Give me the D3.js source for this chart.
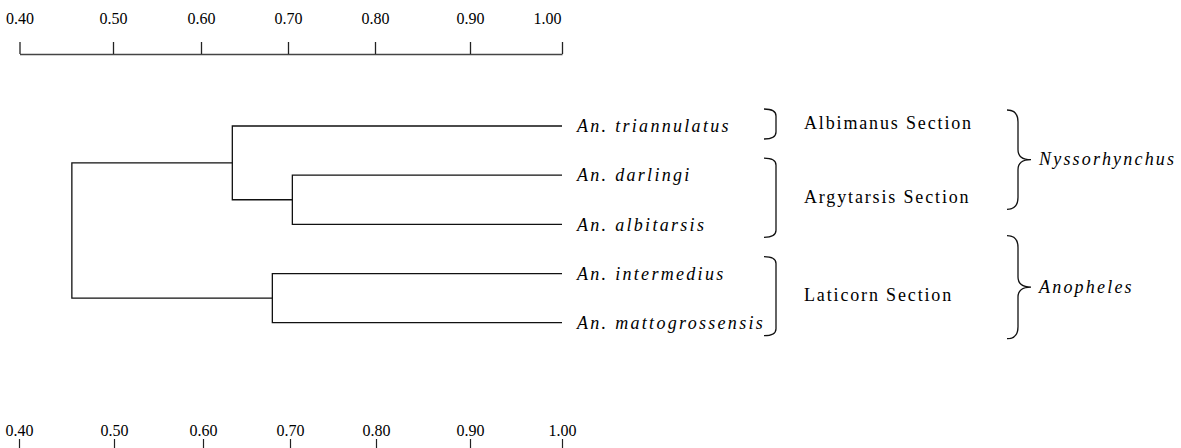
<!DOCTYPE html>
<html>
<head>
<meta charset="utf-8">
<script src="https://cdn.jsdelivr.net/npm/d3@7"></script>
<style>
  body { margin: 0; background: #fff; }
  svg text { font-family: "Liberation Serif", "Times New Roman", Times, "DejaVu Serif", serif; fill: #000; }
  .tick text { font-size: 16px; }
  .leaf { font-size: 18px; font-style: italic; letter-spacing: 2.3px; }
  .section { font-size: 18px; letter-spacing: 1.85px; }
  .genus { font-size: 18px; font-style: italic; letter-spacing: 2.2px; }
</style>
</head>
<body>
<div id="chart"></div>
<script>
// similarity scale ticks
var tickValues = [0.40, 0.50, 0.60, 0.70, 0.80, 0.90, 1.00];

// species, top to bottom
var leafNames = ["An. triannulatus", "An. darlingi", "An. albitarsis", "An. intermedius", "An. mattogrossensis"];

// clusters (UPGMA-like merges)
var mergeIds = ["B", "C", "A", "root"];
var mergeChildren = [
    ["An. darlingi", "An. albitarsis"],
    ["An. intermedius", "An. mattogrossensis"],
    ["An. triannulatus", "B"],
    ["A", "C"]
];
var mergeLevels = [0.705, 0.682, 0.636, 0.456];

// sections and subgenera
var sectionNames = ["Albimanus Section", "Argytarsis Section", "Laticorn Section"];
var sectionLeaves = [[0, 0], [1, 2], [3, 4]];
var genusNames = ["Nyssorhynchus", "Anopheles"];
var genusLeaves = [[0, 2], [3, 4]];

makePlot();

function makePlot() {
    var svgWidth = 1181;
    var svgHeight = 448;

    var svg = d3.select("#chart")
        .append("svg")
        .attr("width", svgWidth)
        .attr("height", svgHeight);

    // the printed ticks are not evenly spaced
    var xTop = d3.scaleLinear()
        .domain(tickValues)
        .range([19.5, 113, 201, 288, 375, 470, 562]);

    var xBottom = d3.scaleLinear()
        .domain(tickValues)
        .range([19, 114, 203, 290, 376, 470, 562]);

    var yScale = d3.scalePoint()
        .domain(leafNames)
        .range([126, 322.7]);

    // top axis
    var topAxis = d3.axisTop(xTop)
        .tickValues(tickValues)
        .tickSize(12)
        .tickSizeOuter(0)
        .tickPadding(18)
        .tickFormat(d3.format(".2f"));

    var gTop = svg.append("g")
        .attr("transform", "translate(0, 54)")
        .call(topAxis)
        .attr("font-family", null)
        .attr("font-size", null);
    gTop.select(".domain").attr("stroke", "#444").attr("stroke-width", 1.6);
    gTop.selectAll(".tick line").attr("stroke", "#222").attr("stroke-width", 1.3);
    gTop.selectAll(".tick text")
        .filter(d => d === 1.00)
        .attr("dx", -15);

    // bottom axis: labels above short ticks, no line
    var bottomAxis = d3.axisTop(xBottom)
        .tickValues(tickValues)
        .tickSize(9)
        .tickSizeOuter(0)
        .tickPadding(3)
        .tickFormat(d3.format(".2f"));

    var gBottom = svg.append("g")
        .attr("transform", "translate(0, 448)")
        .call(bottomAxis)
        .attr("font-family", null)
        .attr("font-size", null);
    gBottom.select(".domain").remove();
    gBottom.selectAll(".tick line").attr("stroke", "#222").attr("stroke-width", 1.2);

    // dendrogram
    var nodeX = {};
    var nodeY = {};
    leafNames.forEach(function(name) {
        nodeX[name] = xTop(1.00);
        nodeY[name] = yScale(name);
    });

    var links = [];
    mergeIds.forEach(function(id, i) {
        var kids = mergeChildren[i];
        nodeX[id] = xTop(mergeLevels[i]);
        nodeY[id] = d3.mean(kids, k => nodeY[k]);
        links.push({x: nodeX[id], kids: kids});
    });

    var tree = svg.append("g")
        .attr("fill", "none")
        .attr("stroke", "#111")
        .attr("stroke-width", 1.3);

    tree.selectAll("path.elbow")
        .data(links)
        .enter()
        .append("path")
        .attr("class", "elbow")
        .attr("d", function(d) {
            var a = d.kids[0], b = d.kids[1];
            return "M" + nodeX[a] + "," + nodeY[a] +
                "H" + d.x + "V" + nodeY[b] + "H" + nodeX[b];
        });

    svg.selectAll("text.leaf")
        .data(leafNames)
        .enter()
        .append("text")
        .attr("class", "leaf")
        .attr("x", xTop(1.00) + 15)
        .attr("y", d => yScale(d))
        .attr("dy", "0.35em")
        .text(d => d);

    // section brackets
    var bx0 = 764, bx1 = 776, r = 7;
    sectionNames.forEach(function(name, i) {
        var top = yScale(leafNames[sectionLeaves[i][0]]) - 17;
        var bot = yScale(leafNames[sectionLeaves[i][1]]) + 13;
        svg.append("path")
            .attr("fill", "none")
            .attr("stroke", "#111")
            .attr("stroke-width", 1.3)
            .attr("d", "M" + bx0 + "," + top + "Q" + bx1 + "," + top + " " + bx1 + "," + (top + r) +
                "V" + (bot - r) + "Q" + bx1 + "," + bot + " " + bx0 + "," + bot);
        svg.append("text")
            .attr("class", "section")
            .attr("x", 804)
            .attr("y", (top + bot) / 2 - 1)
            .attr("dy", "0.35em")
            .text(name);
    });

    // subgenus braces
    var cx0 = 1007, cx1 = 1018, cx2 = 1031;
    var braceTop = [-16, -38];
    var braceBot = [-15, 16];
    genusNames.forEach(function(name, i) {
        var top = yScale(leafNames[genusLeaves[i][0]]) + braceTop[i];
        var bot = yScale(leafNames[genusLeaves[i][1]]) + braceBot[i];
        var mid = (top + bot) / 2;
        svg.append("path")
            .attr("fill", "none")
            .attr("stroke", "#111")
            .attr("stroke-width", 1.3)
            .attr("d", "M" + cx0 + "," + top +
                "Q" + cx1 + "," + top + " " + cx1 + "," + (top + 12) +
                "V" + (mid - 10) +
                "Q" + cx1 + "," + mid + " " + cx2 + "," + mid +
                "Q" + cx1 + "," + mid + " " + cx1 + "," + (mid + 10) +
                "V" + (bot - 12) +
                "Q" + cx1 + "," + bot + " " + cx0 + "," + bot);
        svg.append("text")
            .attr("class", "genus")
            .attr("x", cx2 + 8)
            .attr("y", mid)
            .attr("dy", "0.3em")
            .text(name);
    });
}
</script>
</body>
</html>
